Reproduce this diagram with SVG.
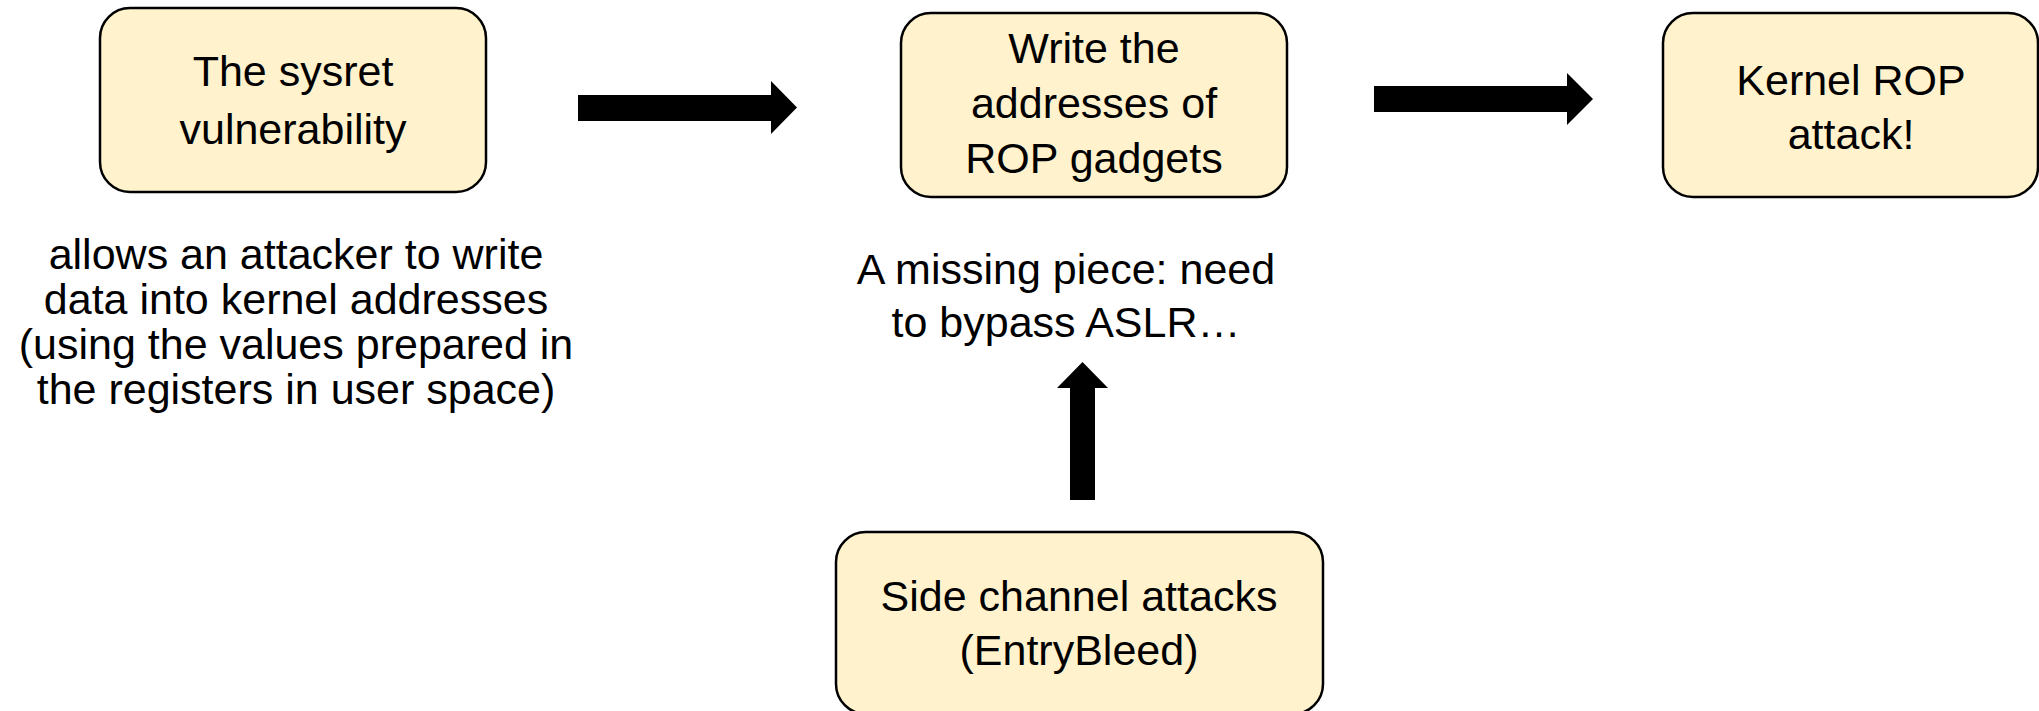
<svg xmlns="http://www.w3.org/2000/svg" width="2039" height="711" viewBox="0 0 2039 711">
  <style>
    .box { fill: #FFF2CC; stroke: #000000; stroke-width: 2.5; }
    .lbl { font-family: "Liberation Sans", Arial, sans-serif; font-size: 43px; fill: #000000; text-anchor: middle; }
    .note { font-family: "Liberation Sans", Arial, sans-serif; font-size: 43px; fill: #000000; text-anchor: middle; }
    .arrow { fill: #000000; stroke: none; }
  </style>
  <rect x="0" y="0" width="2039" height="711" fill="#FFFFFF"/>

  <!-- block arrows between the steps -->
  <g id="connectors">
    <polygon class="arrow" points="578,95 771,95 771,81 797,107.5 771,134 771,121 578,121"/>
    <polygon class="arrow" points="1374,86 1567,86 1567,73 1593,99 1567,125 1567,112 1374,112"/>
    <polygon class="arrow" points="1070,500 1070,388 1057,388 1082.5,362 1108,388 1095,388 1095,500"/>
  </g>

  <g id="sysret">
    <rect class="box" x="100" y="8" width="386" height="184" rx="30" ry="30"/>
    <text class="lbl" x="293" y="86">The sysret</text>
    <text class="lbl" x="293" y="144">vulnerability</text>
  </g>

  <g id="sysret-note">
    <text class="note" x="296" y="269">allows an attacker to write</text>
    <text class="note" x="296" y="314">data into kernel addresses</text>
    <text class="note" x="296" y="359">(using the values prepared in</text>
    <text class="note" x="296" y="404">the registers in user space)</text>
  </g>

  <g id="write-gadgets">
    <rect class="box" x="901" y="13" width="386" height="184" rx="30" ry="30"/>
    <text class="lbl" x="1094" y="63">Write the</text>
    <text class="lbl" x="1094" y="118">addresses of</text>
    <text class="lbl" x="1094" y="173">ROP gadgets</text>
  </g>

  <g id="aslr-note">
    <text class="note" x="1066" y="284">A missing piece: need</text>
    <text class="note" x="1066" y="337">to bypass ASLR…</text>
  </g>

  <g id="kernel-rop">
    <rect class="box" x="1663" y="13" width="375" height="184" rx="30" ry="30"/>
    <text class="lbl" x="1851" y="95">Kernel ROP</text>
    <text class="lbl" x="1851" y="149">attack!</text>
  </g>

  <g id="side-channel">
    <rect class="box" x="836" y="532" width="487" height="182" rx="30" ry="30"/>
    <text class="lbl" x="1079" y="611">Side channel attacks</text>
    <text class="lbl" x="1079" y="665">(EntryBleed)</text>
  </g>
</svg>
